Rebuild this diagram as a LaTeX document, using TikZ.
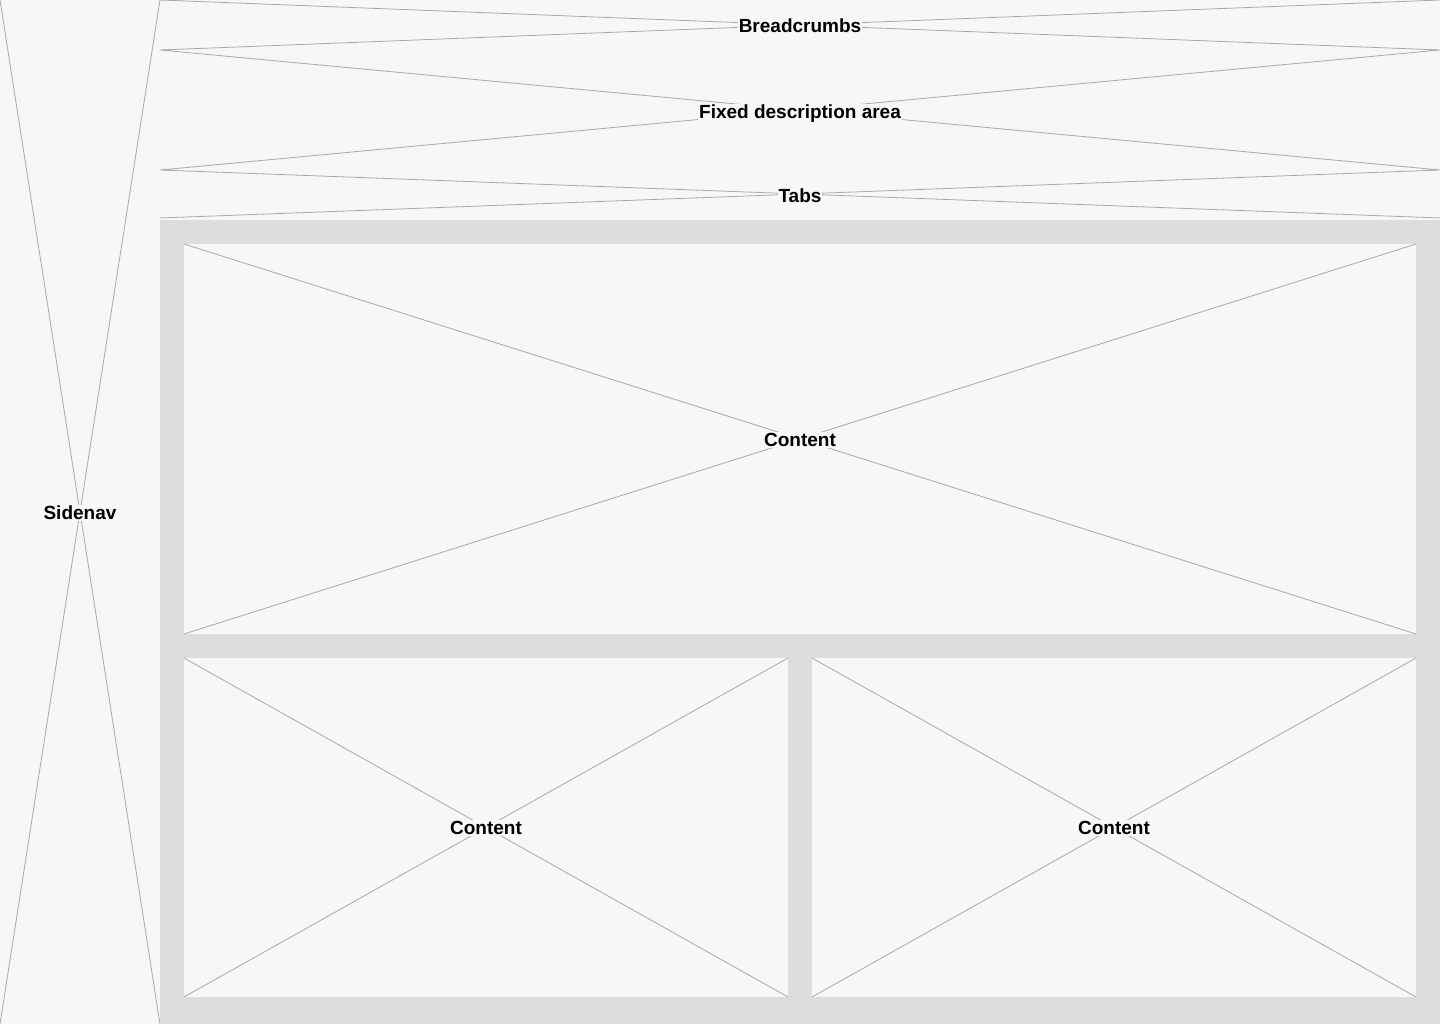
\documentclass[tikz,border=0pt]{standalone}
\usepackage{fontspec}
\setmainfont{Liberation Sans}
\usetikzlibrary{positioning}

\definecolor{pagebg}{HTML}{F6F7F9}
\definecolor{panelgray}{HTML}{DDDDDD}
\definecolor{crossline}{HTML}{A8A8A8}

\tikzset{
	area/.style={rectangle, inner sep=0pt, outer sep=0pt, fill=pagebg},
	cross/.style={draw=crossline, line width=0.8pt},
	label/.style={fill=pagebg, inner sep=1pt, font=\fontsize{19}{22}\selectfont\bfseries}
}

\begin{document}
\begin{tikzpicture}[x=1pt, y=-1pt]
		\useasboundingbox (0,0) rectangle (1440,1024);
		\fill[pagebg] (0,0) rectangle (1440,1024);

		\draw (80,512) node [area, minimum width=160, minimum height=1024] (sidenav) {};
		\draw (800,25) node [area, minimum width=1280, minimum height=50] (crumbs) {};
		\draw (800,110) node [area, minimum width=1280, minimum height=120] (desc) {};
		\draw (800,194) node [area, minimum width=1280, minimum height=48] (tabs) {};
		\draw (800,622) node [area, fill=panelgray, minimum width=1280, minimum height=804] (panel) {};
		\draw (800,439) node [area, minimum width=1232, minimum height=390] (main) {};
		\draw (486,827.5) node [area, minimum width=604, minimum height=339] (left) {};
		\draw (1114,827.5) node [area, minimum width=604, minimum height=339] (right) {};

		\draw [cross]
			(sidenav.north west) -- (sidenav.south east)
			(sidenav.north east) -- (sidenav.south west)
			(crumbs.north west) -- (crumbs.south east)
			(crumbs.north east) -- (crumbs.south west)
			(desc.north west) -- (desc.south east)
			(desc.north east) -- (desc.south west)
			(tabs.north west) -- (tabs.south east)
			(tabs.north east) -- (tabs.south west)
			(main.north west) -- (main.south east)
			(main.north east) -- (main.south west)
			(left.north west) -- (left.south east)
			(left.north east) -- (left.south west)
			(right.north west) -- (right.south east)
			(right.north east) -- (right.south west)
		;

		\node [label] (sidenavtext) at (80,513) {Sidenav};
		\node [label] (crumbstext) at (800,26) {Breadcrumbs};
		\node [label] (desctext) at (800,113.5) {Fixed description area};
		\node [label] (tabstext) at (800,196) {Tabs};
		\node [label] (maintext) at (800,440) {Content};
		\node [label] (lefttext) at (486,828) {Content};
		\node [label] (righttext) at (1114,828) {Content};
	\end{tikzpicture}
\end{document}
